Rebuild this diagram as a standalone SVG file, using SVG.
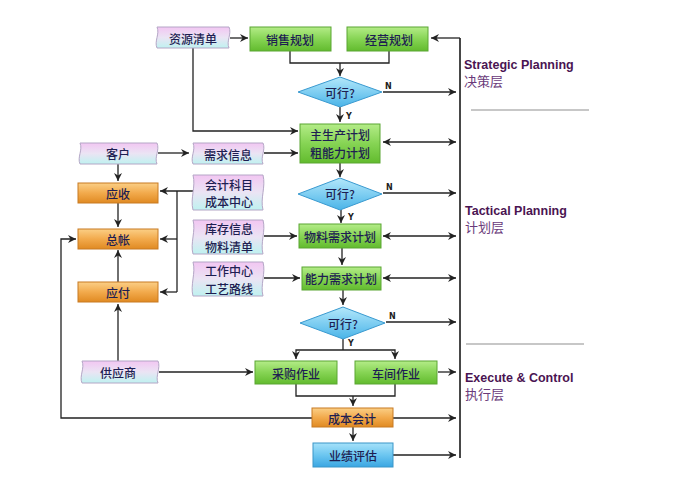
<svg xmlns="http://www.w3.org/2000/svg" width="697" height="492" viewBox="0 0 697 492">
<style>
.t{font-family:"Noto Sans CJK SC","Noto Sans",sans-serif;font-size:12px;fill:#1e1e52;text-anchor:middle;dominant-baseline:central;font-weight:500}
.g{fill:url(#gg);stroke:#5aa632;stroke-width:1}
.o{fill:url(#og);stroke:#c87a22;stroke-width:1}
.b{fill:url(#bg);stroke:#3a96c8;stroke-width:1}
.d{fill:url(#dg);stroke:#3a9ad0;stroke-width:1}
.w{fill:url(#wg);stroke:#b4a6c6;stroke-width:1}
.c{fill:none;stroke:#222;stroke-width:1.3}
.a{marker-end:url(#ah)}
.aa{marker-end:url(#ah);marker-start:url(#ah)}
.yn{font-family:"DejaVu Sans",sans-serif;font-size:8px;font-weight:bold;fill:#222}
.lh{font-family:"Liberation Sans",Arial,sans-serif;font-size:12.5px;font-weight:bold;fill:#4a1452}
.lc{font-family:"Noto Sans CJK SC",sans-serif;font-size:13px;fill:#6a3a7a}
.sep{stroke:#b4b4b4;stroke-width:1.5}
</style>
<defs>
<linearGradient id="gg" x1="0" y1="0" x2="0" y2="1"><stop offset="0" stop-color="#b4ec88"/><stop offset="0.5" stop-color="#86d454"/><stop offset="1" stop-color="#62bb2e"/></linearGradient>
<linearGradient id="og" x1="0" y1="0" x2="0" y2="1"><stop offset="0" stop-color="#fbcf86"/><stop offset="0.5" stop-color="#f2aa4c"/><stop offset="1" stop-color="#e08a22"/></linearGradient>
<linearGradient id="bg" x1="0" y1="0" x2="0" y2="1"><stop offset="0" stop-color="#a6e2fa"/><stop offset="0.5" stop-color="#6cc6f0"/><stop offset="1" stop-color="#3aa6e2"/></linearGradient>
<linearGradient id="dg" x1="0" y1="0" x2="0" y2="1"><stop offset="0" stop-color="#b4e8fb"/><stop offset="1" stop-color="#4ab4e8"/></linearGradient>
<linearGradient id="wg" x1="0" y1="0" x2="0" y2="1"><stop offset="0" stop-color="#f2c6f2"/><stop offset="0.5" stop-color="#ebe4f4"/><stop offset="1" stop-color="#bff2f0"/></linearGradient>
<marker id="ah" markerUnits="userSpaceOnUse" markerWidth="10" markerHeight="10" refX="8" refY="4" orient="auto-start-reverse" viewBox="0 0 10 8"><path d="M0,0 L8,4 L0,8 L2.5,4 z" fill="#222"/></marker>
</defs>
<rect width="697" height="492" fill="#fff"/>

<g id="connectors">
<path class="c a" d="M230,38 H248"/>
<path class="c" d="M290,51 V63 H389 V51"/>
<path class="c a" d="M340,63 V76"/>
<path class="c a" d="M383,92 H456"/>
<path class="c a" d="M340,107 V122"/>
<path class="c a" d="M193,48 V131 H298"/>
<path class="c aa" d="M383,142 H456"/>
<path d="M460,38 V458" stroke="#333" stroke-width="1.8" fill="none"/>
<path class="c a" d="M460,38 H431"/>
<path class="c a" d="M158,153 H189"/>
<path class="c a" d="M264,153 H298"/>
<path class="c a" d="M118,164 V181"/>
<path class="c a" d="M118,203 V227"/>
<path class="c a" d="M193,191 H160"/>
<path class="c" d="M177,191 V292"/>
<path class="c a" d="M177,239 H160"/>
<path class="c a" d="M177,292 H160"/>
<path class="c a" d="M118,282 V250"/>
<path class="c a" d="M118,361 V304"/>
<path class="c a" d="M264,236 H297"/>
<path class="c a" d="M264,278 H300"/>
<path class="c a" d="M340,163 V177"/>
<path class="c a" d="M383,193 H456"/>
<path class="c a" d="M341,210 V223"/>
<path class="c aa" d="M383,236 H456"/>
<path class="c a" d="M342,248 V265"/>
<path class="c aa" d="M383,278 H456"/>
<path class="c a" d="M343,290 V305"/>
<path class="c a" d="M386,322 H456"/>
<path class="c" d="M343,339 V350"/>
<path class="c a" d="M343,350 H296 V359"/>
<path class="c a" d="M343,350 H395 V359"/>
<path class="c a" d="M159,372 H253"/>
<path class="c a" d="M438,372 H456"/>
<path class="c" d="M296,384 V396 H395 V384"/>
<path class="c a" d="M353,396 V406"/>
<path class="c a" d="M393,418 H456"/>
<path class="c a" d="M312,418 H61 V239 H76"/>
<path class="c a" d="M353,427 V441"/>
<path class="c a" d="M393,455 H456"/>
<text class="yn" x="385" y="89">N</text>
<text class="yn" x="346" y="119">Y</text>
<text class="yn" x="386" y="190">N</text>
<text class="yn" x="348" y="220">Y</text>
<text class="yn" x="389" y="319">N</text>
<text class="yn" x="348" y="346">Y</text>
</g>

<g id="n-ziyuan"><path class="w" d="M157,27 H229 C232,34 226,41 229,48 H157 C154,41 160,34 157,27 Z"/><text class="t" x="193" y="38">资源清单</text></g>
<g id="n-xiaoshou"><rect class="g" x="250" y="27" width="81" height="24"/><text class="t" x="290" y="39">销售规划</text></g>
<g id="n-jingying"><rect class="g" x="347" y="27" width="81" height="24"/><text class="t" x="389" y="39">经营规划</text></g>
<g id="n-d1"><polygon class="d" points="298,92 340,77 382,92 340,107"/><text class="t" x="340" y="92">可行?</text></g>
<g id="n-mps"><rect class="g" x="300" y="124" width="80" height="39"/><text class="t" x="340" y="134.5">主生产计划</text><text class="t" x="340" y="152">粗能力计划</text></g>
<g id="n-kehu"><path class="w" d="M80,143 H157 C160,150 154,157 157,164 H80 C77,157 83,150 80,143 Z"/><text class="t" x="118" y="153">客户</text></g>
<g id="n-xuqiu"><path class="w" d="M193,143 H263 C266,150 260,157 263,164 H193 C190,157 196,150 193,143 Z"/><text class="t" x="228" y="154">需求信息</text></g>
<g id="n-kuaiji"><path class="w" d="M193,175 H263 C266,187 260,198 263,210 H193 C190,198 196,187 193,175 Z"/><text class="t" x="229" y="184">会计科目</text><text class="t" x="229" y="201.5">成本中心</text></g>
<g id="n-yingshou"><rect class="o" x="78" y="183" width="80" height="20"/><text class="t" x="118" y="193">应收</text></g>
<g id="n-d2"><polygon class="d" points="298,194 340,178 382,194 340,210"/><text class="t" x="340" y="193">可行?</text></g>
<g id="n-kucun"><path class="w" d="M193,220 H263 C266,231 260,243 263,254 H193 C190,243 196,231 193,220 Z"/><text class="t" x="229" y="228.5">库存信息</text><text class="t" x="229" y="246">物料清单</text></g>
<g id="n-mrp"><rect class="g" x="299" y="224" width="82" height="24"/><text class="t" x="340" y="236">物料需求计划</text></g>
<g id="n-zongzhang"><rect class="o" x="78" y="229" width="80" height="20"/><text class="t" x="118" y="239">总帐</text></g>
<g id="n-gongzuo"><path class="w" d="M193,262 H263 C266,273 260,285 263,296 H193 C190,285 196,273 193,262 Z"/><text class="t" x="229" y="270.5">工作中心</text><text class="t" x="229" y="288">工艺路线</text></g>
<g id="n-crp"><rect class="g" x="302" y="267" width="79" height="23"/><text class="t" x="341" y="278">能力需求计划</text></g>
<g id="n-yingfu"><rect class="o" x="78" y="282" width="80" height="20"/><text class="t" x="118" y="292">应付</text></g>
<g id="n-d3"><polygon class="d" points="300,323 343,307 385,323 343,339"/><text class="t" x="343" y="323">可行?</text></g>
<g id="n-gongying"><path class="w" d="M82,361 H158 C161,368 155,376 158,383 H82 C79,376 85,368 82,361 Z"/><text class="t" x="118" y="372">供应商</text></g>
<g id="n-caigou"><rect class="g" x="255" y="361" width="82" height="23"/><text class="t" x="296" y="373">采购作业</text></g>
<g id="n-chejian"><rect class="g" x="355" y="361" width="82" height="23"/><text class="t" x="396" y="373">车间作业</text></g>
<g id="n-chengben"><rect class="o" x="312" y="408" width="81" height="19"/><text class="t" x="352" y="418">成本会计</text></g>
<g id="n-yeji"><rect class="b" x="313" y="443" width="80" height="24"/><text class="t" x="353" y="455">业绩评估</text></g>

<g id="layers">
<text class="lh" x="464" y="69">Strategic Planning</text>
<text class="lc" x="464" y="86">决策层</text>
<line class="sep" x1="471" y1="110" x2="589" y2="110"/>
<text class="lh" x="465" y="215">Tactical Planning</text>
<text class="lc" x="465" y="232">计划层</text>
<line class="sep" x1="466" y1="344" x2="584" y2="344"/>
<text class="lh" x="465" y="382">Execute &amp; Control</text>
<text class="lc" x="465" y="399">执行层</text>
</g>
</svg>
